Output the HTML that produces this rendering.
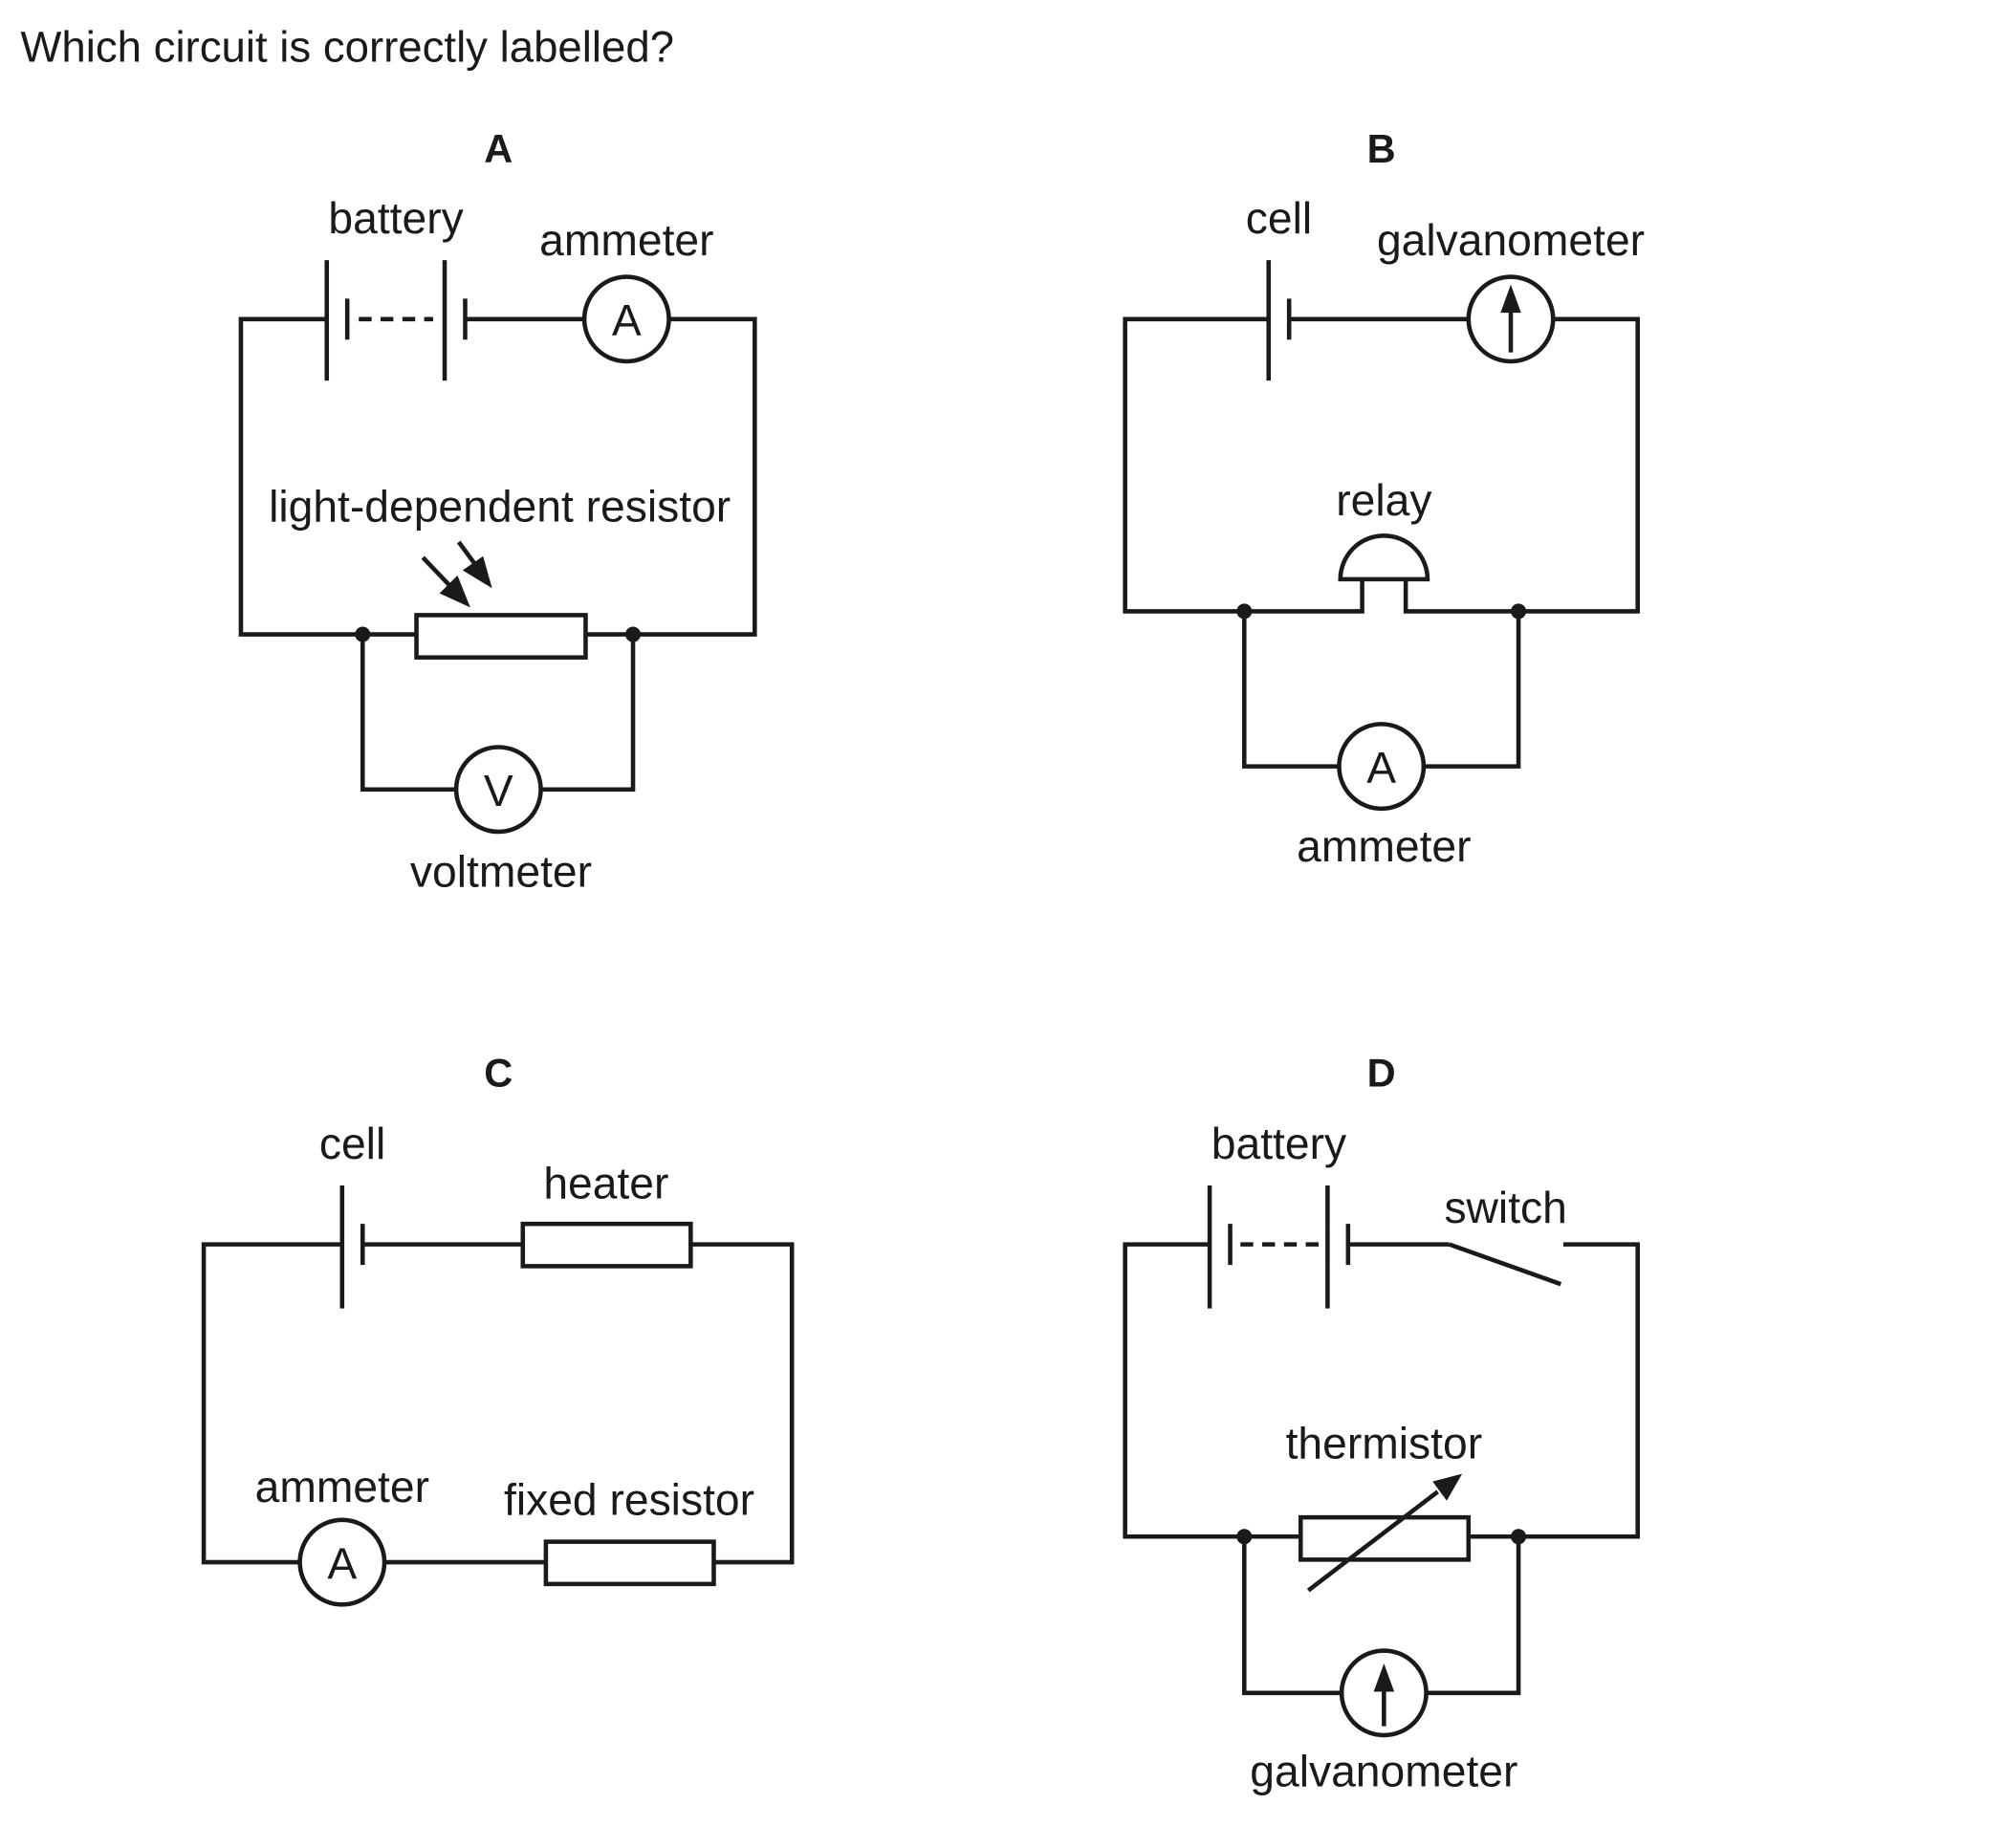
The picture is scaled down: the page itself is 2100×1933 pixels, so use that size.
<!DOCTYPE html>
<html><head><meta charset="utf-8"><style>
html,body{margin:0;padding:0;background:#fff;}
svg{display:block;}
text{font-family:"Liberation Sans",Arial,sans-serif;fill:#1a1a1a;}
.l{font-size:34.5px;text-anchor:middle;}
.h{font-size:31px;font-weight:bold;text-anchor:middle;}
</style></head><body>
<svg width="2100" height="1933" viewBox="0 0 1567 1442" preserveAspectRatio="none" xmlns="http://www.w3.org/2000/svg">
<g stroke="#1a1a1a" stroke-width="3.4" fill="none">
<!-- A -->
<path d="M255,249 H188 V495 H325 M457,495 H589 V249 H522 M456,249 H363"/>
<path d="M255,203 V297 M271,233 V265 M347,203 V297 M363,233 V265"/>
<path d="M280,249 H338" stroke-dasharray="10,7"/>
<circle cx="489" cy="249" r="33"/>
<rect x="325" y="480" width="132" height="33"/>
<path d="M283,495 V616 H356 M422,616 H494 V495"/>
<circle cx="389" cy="616" r="33"/>
<!-- B -->
<path d="M990,249 H878 V477 H1063 V452 M1097,452 V477 H1278 V249 H1212 M1146,249 H1006"/>
<path d="M990,203 V297 M1006,233 V265"/>
<path d="M1046,452 H1114 A34,34 0 0 0 1046,452 Z"/>
<path d="M971,477 V598 H1045 M1111,598 H1185 V477"/>
<circle cx="1179" cy="249" r="33"/>
<circle cx="1078" cy="598" r="33"/>
<!-- C -->
<path d="M267,971 H159 V1219 H234 M300,1219 H426 M557,1219 H618 V971 H539 M408,971 H283"/>
<path d="M267,925 V1021 M283,955 V987"/>
<rect x="408" y="955" width="131" height="33"/>
<rect x="426" y="1203" width="131" height="33"/>
<circle cx="267" cy="1219" r="33"/>
<!-- D -->
<path d="M944,971 H878 V1199 H1015 M1146,1199 H1278 V971 H1220 M1131,971 H1052"/>
<path d="M1131,971 L1218,1002"/>
<path d="M944,925 V1021 M960,955 V987 M1036,925 V1021 M1052,955 V987"/>
<path d="M968,971 H1030" stroke-dasharray="10,7"/>
<rect x="1015" y="1184" width="131" height="33"/>
<path d="M971,1199 V1321 H1047 M1113,1321 H1185 V1199"/>
<circle cx="1080" cy="1321" r="33"/>
<line x1="330" y1="435" x2="352" y2="458"/>
<line x1="358" y1="423" x2="372" y2="442"/>
<line x1="1179" y1="275" x2="1179" y2="240"/>
<line x1="1080" y1="1347" x2="1080" y2="1312"/>
<line x1="1021" y1="1241" x2="1122" y2="1164"/>
</g>
<g fill="#1a1a1a">
<polygon points="367,474 343,463 357,449"/>
<polygon points="384,459 361,445 377,434"/>
<polygon points="1179,222 1171,244 1187,244"/>
<polygon points="1080,1298 1072,1320 1088,1320"/>
<polygon points="1141,1150 1118,1156 1129,1171"/>
<circle cx="283" cy="495" r="6"/><circle cx="494" cy="495" r="6"/>
<circle cx="971" cy="477" r="6"/><circle cx="1185" cy="477" r="6"/>
<circle cx="971" cy="1199" r="6"/><circle cx="1185" cy="1199" r="6"/>
</g>
<text x="16" y="48" style="font-size:34px">Which circuit is correctly labelled?</text>
<text class="h" x="389" y="127">A</text>
<text class="h" x="1078" y="127">B</text>
<text class="h" x="389" y="848">C</text>
<text class="h" x="1078" y="848">D</text>
<text class="l" x="309" y="182">battery</text>
<text class="l" x="489" y="199">ammeter</text>
<text class="l" x="390" y="407">light-dependent resistor</text>
<text class="l" x="489" y="262">A</text>
<text class="l" x="389" y="629">V</text>
<text class="l" x="391" y="692">voltmeter</text>
<text class="l" x="998" y="182">cell</text>
<text class="l" x="1179" y="199">galvanometer</text>
<text class="l" x="1080" y="402">relay</text>
<text class="l" x="1078" y="611">A</text>
<text class="l" x="1080" y="672">ammeter</text>
<text class="l" x="275" y="904">cell</text>
<text class="l" x="473" y="935">heater</text>
<text class="l" x="267" y="1172">ammeter</text>
<text class="l" x="491" y="1182">fixed resistor</text>
<text class="l" x="267" y="1232">A</text>
<text class="l" x="998" y="904">battery</text>
<text class="l" x="1175" y="954">switch</text>
<text class="l" x="1080" y="1138">thermistor</text>
<text class="l" x="1080" y="1394">galvanometer</text>
</svg>
</body></html>
